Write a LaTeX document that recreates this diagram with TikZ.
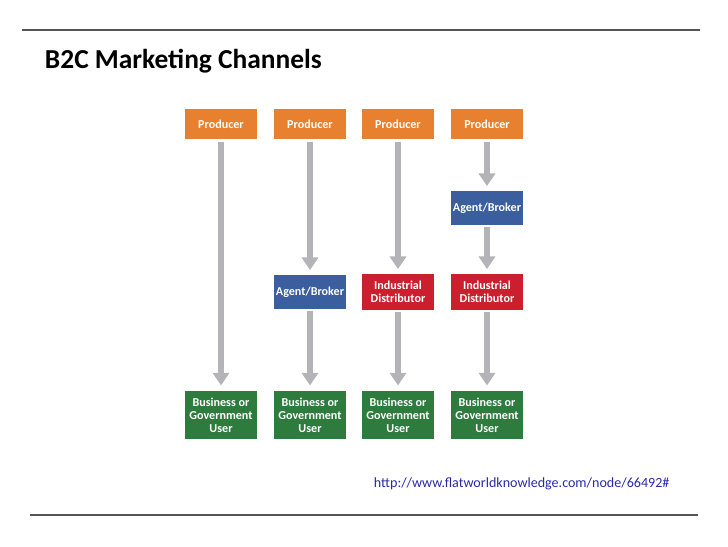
\documentclass[tikz,border=0pt]{standalone}
\usepackage{fontspec}
\setmainfont{Carlito}
\usetikzlibrary{positioning, arrows.meta, shadows}
\definecolor{chorange}{HTML}{E8812F}
\definecolor{chblue}{HTML}{3A5E9E}
\definecolor{chred}{HTML}{CC1F2D}
\definecolor{chgreen}{HTML}{2E7B3E}
\definecolor{charrow}{HTML}{B4B4B8}
\definecolor{churl}{HTML}{2A2AA8}
\definecolor{chrule}{HTML}{555555}
\begin{document}
\begin{tikzpicture}[x=0.025cm, y=-0.025cm,
          box/.style={draw=white, line width=1.6pt, text=white, font=\bfseries\fontsize{8.6}{9.3}\selectfont,
                      minimum width=1.85cm, align=center, inner sep=1pt,
                      drop shadow={opacity=0.4, shadow xshift=0.7pt, shadow yshift=-0.9pt}},
          prod/.style={box, fill=chorange, minimum height=0.82cm},
          agent/.style={box, fill=chblue, minimum height=0.9cm},
          dist/.style={box, fill=chred, minimum height=0.95cm},
          user/.style={box, fill=chgreen, minimum height=1.28cm},
          flow/.style={-{Triangle[width=11.5pt,length=9pt]}, line width=4.6pt, draw=charrow, shorten >=2pt}]
        \useasboundingbox (0,0) rectangle (728,546);
        % rules and title
        \draw[chrule, line width=1.4pt] (22,30) -- (700,30);
        \draw[chrule, line width=1.4pt] (30,515) -- (698,515);
        \node[anchor=west, font=\bfseries\fontsize{19.5}{21}\selectfont] (title) at (40,61) {B2C Marketing Channels};
        % top row
        \node[prod] (p1) at (221,124) {Producer};
        \node[prod] (p2) at (310,124) {Producer};
        \node[prod] (p3) at (398,124) {Producer};
        \node[prod] (p4) at (487,124) {Producer};
        \node[agent] (a4) at (487,208) {Agent/Broker};
        % middle row
        \node[agent] (a2) at (310,292) {Agent/Broker};
        \node[dist] (d3) at (398,292) {Industrial\\Distributor};
        \node[dist] (d4) at (487,292) {Industrial\\Distributor};
        % bottom row
        \node[user] (u1) at (221,415) {Business or\\Government\\User};
        \node[user] (u2) at (310,415) {Business or\\Government\\User};
        \node[user] (u3) at (398,415) {Business or\\Government\\User};
        \node[user] (u4) at (487,415) {Business or\\Government\\User};
        % channels
        \draw[flow] (p1) -- (u1);
        \draw[flow] (p2) -- (a2);
        \draw[flow] (a2) -- (u2);
        \draw[flow] (p3) -- (d3);
        \draw[flow] (d3) -- (u3);
        \draw[flow] (p4) -- (a4);
        \draw[flow] (a4) -- (d4);
        \draw[flow] (d4) -- (u4);
        \node[anchor=west, text=churl, font=\fontsize{10}{12}\selectfont] (src) at (369,484) {http://www.flatworldknowledge.com/node/66492\#};
      \end{tikzpicture}
\end{document}
